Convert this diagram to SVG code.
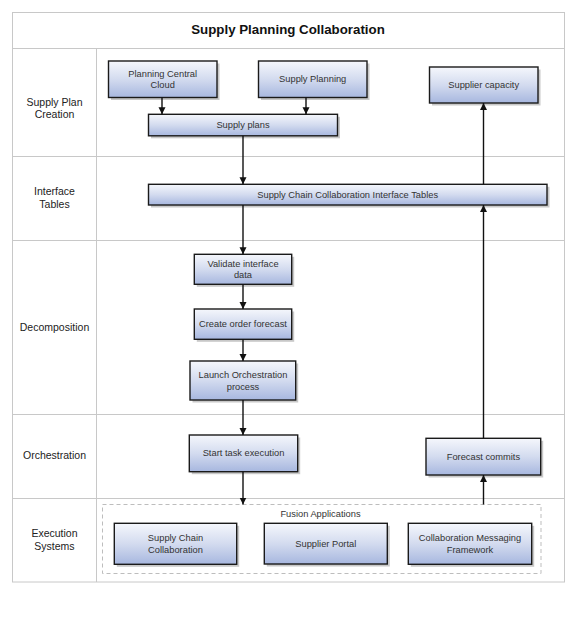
<svg xmlns="http://www.w3.org/2000/svg" width="576" height="624" viewBox="0 0 576 624">
<style>
.grid{fill:none;stroke:#c8c8c8;stroke-width:1}
.title{font-family:"Liberation Sans",Arial,sans-serif;font-size:13.3px;font-weight:bold;fill:#111;text-anchor:middle}
.lane{font-family:"Liberation Sans",Arial,sans-serif;font-size:10.5px;fill:#222;text-anchor:middle}
.box{fill:url(#grad);stroke:#1a1a1a;stroke-width:1.4}
.shadow{fill:#9a9a9a;opacity:0.55}
.t{font-family:"Liberation Sans",Arial,sans-serif;font-size:9.3px;fill:#333;text-anchor:middle;dominant-baseline:central}
.conn{fill:none;stroke:#111;stroke-width:1.4;marker-end:url(#arr)}
.dash{fill:none;stroke:#bdbdbd;stroke-width:1;stroke-dasharray:4 3}
</style>
<defs>
<linearGradient id="grad" x1="0" y1="0" x2="0" y2="1">
<stop offset="0" stop-color="#f5f7fc"/>
<stop offset="0.5" stop-color="#d3dbef"/>
<stop offset="1" stop-color="#a7b7df"/>
</linearGradient>
<marker id="arr" markerUnits="userSpaceOnUse" markerWidth="8" markerHeight="8" refX="7" refY="3.5" orient="auto">
<path d="M0,0 L7,3.5 L0,7 z" fill="#111"/>
</marker>
</defs>
<rect width="576" height="624" fill="#fff"/>
<g id="frame">
<rect class="grid" x="12.5" y="12.5" width="552" height="569.5"/>
<line class="grid" x1="12.5" y1="48.5" x2="564.5" y2="48.5"/>
<line class="grid" x1="12.5" y1="156.5" x2="564.5" y2="156.5"/>
<line class="grid" x1="12.5" y1="240.5" x2="564.5" y2="240.5"/>
<line class="grid" x1="12.5" y1="414.5" x2="564.5" y2="414.5"/>
<line class="grid" x1="12.5" y1="498.5" x2="564.5" y2="498.5"/>
<line class="grid" x1="96.5" y1="48.5" x2="96.5" y2="582"/>
<text class="title" x="288" y="33.5">Supply Planning Collaboration</text>
</g>
<g id="lanes">
<text class="lane" x="54.5" y="105.5">Supply Plan</text>
<text class="lane" x="54.5" y="118">Creation</text>
<text class="lane" x="54.5" y="195">Interface</text>
<text class="lane" x="54.5" y="207.5">Tables</text>
<text class="lane" x="54.5" y="330.5">Decomposition</text>
<text class="lane" x="54.5" y="459">Orchestration</text>
<text class="lane" x="54.5" y="536.5">Execution</text>
<text class="lane" x="54.5" y="550">Systems</text>
</g>
<g id="fusion">
<rect class="dash" x="102.5" y="504.5" width="438.5" height="69"/>
<text class="t" x="320.5" y="514">Fusion Applications</text>
</g>
<g id="n-pcc">
<rect class="shadow" x="111" y="63.5" width="108.5" height="36.5"/>
<rect class="box" x="108.5" y="61" width="108.5" height="36.5"/>
<text class="t" x="162.7" y="74">Planning Central</text>
<text class="t" x="162.7" y="85">Cloud</text>
</g>
<g id="n-sp">
<rect class="shadow" x="261" y="63.5" width="108.5" height="36.5"/>
<rect class="box" x="258.5" y="61" width="108.5" height="36.5"/>
<text class="t" x="312.7" y="79">Supply Planning</text>
</g>
<g id="n-plans">
<rect class="shadow" x="151" y="116.8" width="189" height="21.5"/>
<rect class="box" x="148.5" y="114.3" width="189" height="21.5"/>
<text class="t" x="243" y="125">Supply plans</text>
</g>
<g id="n-cap">
<rect class="shadow" x="432" y="69.5" width="108.5" height="36"/>
<rect class="box" x="429.5" y="67" width="108.5" height="36"/>
<text class="t" x="483.7" y="85">Supplier capacity</text>
</g>
<g id="n-iface">
<rect class="shadow" x="151" y="186.8" width="398.5" height="20.7"/>
<rect class="box" x="148.5" y="184.3" width="398.5" height="20.7"/>
<text class="t" x="347.7" y="194.7">Supply Chain Collaboration Interface Tables</text>
</g>
<g id="n-validate">
<rect class="shadow" x="196.8" y="256.8" width="97.4" height="30"/>
<rect class="box" x="194.3" y="254.3" width="97.4" height="30"/>
<text class="t" x="243" y="264">Validate interface</text>
<text class="t" x="243" y="275">data</text>
</g>
<g id="n-create">
<rect class="shadow" x="196.8" y="311.5" width="97.4" height="30.3"/>
<rect class="box" x="194.3" y="309" width="97.4" height="30.3"/>
<text class="t" x="243" y="324.2">Create order forecast</text>
</g>
<g id="n-launch">
<rect class="shadow" x="192.5" y="363.5" width="105.7" height="39"/>
<rect class="box" x="190" y="361" width="105.7" height="39"/>
<text class="t" x="243" y="375">Launch Orchestration</text>
<text class="t" x="243" y="386.5">process</text>
</g>
<g id="n-start">
<rect class="shadow" x="191.8" y="437.5" width="108.4" height="36.7"/>
<rect class="box" x="189.3" y="435" width="108.4" height="36.7"/>
<text class="t" x="243.5" y="453.3">Start task execution</text>
</g>
<g id="n-commits">
<rect class="shadow" x="428.5" y="440.8" width="114.7" height="36.7"/>
<rect class="box" x="426" y="438.3" width="114.7" height="36.7"/>
<text class="t" x="483.4" y="456.7">Forecast commits</text>
</g>
<g id="n-scc">
<rect class="shadow" x="116.8" y="525.8" width="122.4" height="41"/>
<rect class="box" x="114.3" y="523.3" width="122.4" height="41"/>
<text class="t" x="175.5" y="538">Supply Chain</text>
<text class="t" x="175.5" y="549.5">Collaboration</text>
</g>
<g id="n-portal">
<rect class="shadow" x="266.8" y="525.8" width="123" height="40.7"/>
<rect class="box" x="264.3" y="523.3" width="123" height="40.7"/>
<text class="t" x="325.8" y="543.5">Supplier Portal</text>
</g>
<g id="n-cmf">
<rect class="shadow" x="410.8" y="525.8" width="123.4" height="41"/>
<rect class="box" x="408.3" y="523.3" width="123.4" height="41"/>
<text class="t" x="470" y="538">Collaboration Messaging</text>
<text class="t" x="470" y="549.5">Framework</text>
</g>
<g id="connectors">
<line class="conn" x1="162" y1="97.5" x2="162" y2="114.3"/>
<line class="conn" x1="306" y1="97.5" x2="306" y2="114.3"/>
<line class="conn" x1="243" y1="135.8" x2="243" y2="184.3"/>
<line class="conn" x1="243" y1="205" x2="243" y2="254.3"/>
<line class="conn" x1="243" y1="284.3" x2="243" y2="309"/>
<line class="conn" x1="243" y1="339.3" x2="243" y2="361"/>
<line class="conn" x1="243" y1="400" x2="243" y2="435"/>
<line class="conn" x1="243" y1="471.7" x2="243" y2="504.5"/>
<line class="conn" x1="483.5" y1="504.5" x2="483.5" y2="475"/>
<line class="conn" x1="483.5" y1="438.3" x2="483.5" y2="205"/>
<line class="conn" x1="483.5" y1="184.3" x2="483.5" y2="103"/>
</g>
</svg>
